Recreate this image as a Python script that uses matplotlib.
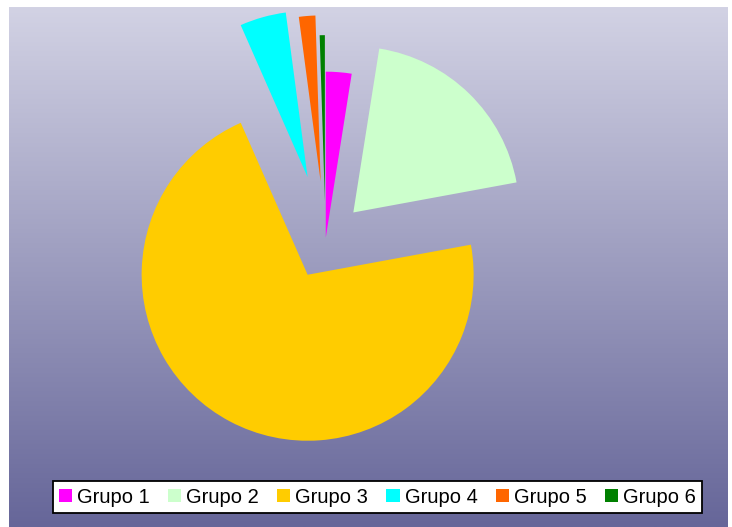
import numpy as np
import matplotlib
matplotlib.use("Agg")
import matplotlib.pyplot as plt
from matplotlib.colors import LinearSegmentedColormap

# Data (percent shares)
labels = ["Grupo 1", "Grupo 2", "Grupo 3", "Grupo 4", "Grupo 5", "Grupo 6"]
values = [2.5, 19.6, 71.3, 4.5, 1.6, 0.5]
explode = [0.02, 0.24, 0.23, 0.40, 0.36, 0.24]
colors = ["#FF00FF", "#CCFFCC", "#FFCC00", "#00FFFF", "#FF6600", "#008000"]

plt.rcParams['font.family'] = ['Liberation Sans', 'DejaVu Sans']

W, H = 732, 527
fig = plt.figure(figsize=(W / 100, H / 100), dpi=100)
fig.patch.set_facecolor("white")

# gradient background (plot area)
bg = fig.add_axes([9 / W, 0, (728 - 9) / W, (H - 7) / H])
bg.set_axis_off()
cmap = LinearSegmentedColormap.from_list("bg", ["#D2D2E4", "#666699"])
grad = np.linspace(0, 1, 256).reshape(-1, 1)
bg.imshow(grad, aspect="auto", cmap=cmap, extent=[0, 1, 0, 1], origin="upper")

# pie: centre at pixel (325.5, 241), radius 166 px
cx, cy, r = 325.5, 241, 166
ax = fig.add_axes([0, 0, 1, 1])
ax.patch.set_alpha(0)
wedges, _ = ax.pie(values, explode=explode, colors=colors, startangle=90,
                   counterclock=False, radius=1,
                   wedgeprops=dict(linewidth=0))
ax.set_xlim(-cx / r, (W - cx) / r)
ax.set_ylim(-(H - cy) / r, cy / r)
ax.set_axis_off()

leg = fig.legend(wedges, labels, loc="center", bbox_to_anchor=(0.5157, 0.0569),
                 ncol=6, fontsize=14.5, handlelength=0.65, handleheight=0.65,
                 handletextpad=0.25, columnspacing=0.9, borderpad=0.3,
                 fancybox=False, framealpha=1)
leg.get_frame().set_edgecolor("black")
leg.get_frame().set_linewidth(1.3)

fig.savefig("out.png", dpi=100)
